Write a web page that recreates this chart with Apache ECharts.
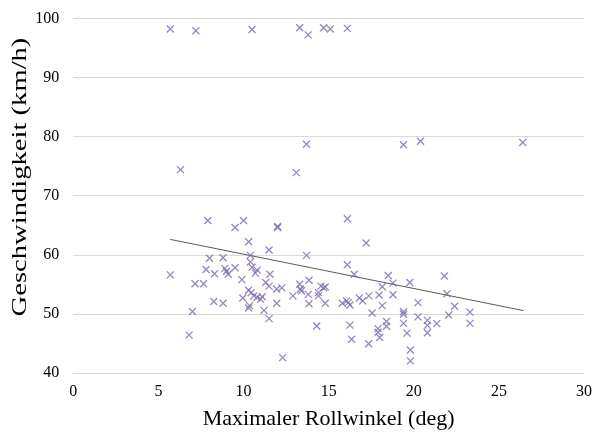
<!DOCTYPE html>
<html>
<head>
<meta charset="utf-8">
<script src="https://cdn.jsdelivr.net/npm/echarts@6/dist/echarts.min.js"></script>
<style>
  html, body { margin: 0; padding: 0; background: #fff; }
  #chart { width: 595px; height: 435px; }
</style>
</head>
<body>
<div id="chart"></div>
<script>
// Maximum roll angle (deg) per ride
const rollAngle = [
  5.7, 7.2, 10.5, 13.3, 13.8, 14.7, 15.1, 16.1,
  6.3, 13.1, 13.7, 19.4, 20.4, 26.4,
  7.9, 10.0, 9.5, 12.0, 12.0, 16.1, 10.3, 17.2, 11.5, 13.7,
  8.0, 8.8, 10.4, 10.4, 16.1, 7.8, 8.9, 9.0, 9.1, 9.5,
  8.3, 10.5, 10.8, 10.7, 11.55, 16.5, 18.5, 21.8, 5.7,
  7.15, 7.65, 9.9, 11.3, 11.5, 11.95, 12.25, 13.3, 13.35, 13.4,
  13.85, 13.8, 12.9, 14.4, 14.4, 14.55, 14.7, 14.8, 18.15, 18.78,
  19.77, 21.95, 17.96, 18.78, 17.36, 10.3, 10.45, 10.6, 10.8, 11.0,
  11.1, 9.96,
  8.25, 8.8, 10.35, 10.3, 11.95, 13.85, 14.8, 15.8, 16.05, 16.15,
  16.25, 16.8, 17.0, 18.15, 20.25, 22.4, 11.2, 7.0, 17.55, 19.4,
  19.4, 23.3, 22.05, 20.25,
  11.5, 18.4, 18.4, 17.9, 17.9, 18.0, 19.4, 20.8, 20.8, 20.8,
  21.35, 23.3, 19.6, 19.8, 19.8, 16.25, 16.35, 17.35, 14.3, 6.8,
  12.3
];
// Speed (km/h) for the same rides
const speed = [
  98.2, 97.9, 98.1, 98.4, 97.2, 98.4, 98.2, 98.3,
  74.4, 73.9, 78.7, 78.6, 79.2, 79.0,
  65.8, 65.8, 64.6, 64.8, 64.6, 66.1, 62.2, 62.0, 60.8, 59.9,
  59.4, 59.5, 59.9, 58.8, 58.3, 57.5, 57.7, 57.2, 56.7, 57.8,
  56.8, 57.9, 57.4, 56.9, 56.7, 56.7, 56.5, 56.4, 56.6,
  55.1, 55.1, 55.8, 55.3, 54.7, 54.2, 54.4, 55.0, 54.2, 53.9,
  55.7, 53.3, 53.05, 53.6, 53.05, 54.7, 54.4, 54.55, 54.6, 55.2,
  55.3, 53.4, 53.2, 53.25, 53.05, 54.0, 53.6, 53.05, 52.8, 52.5,
  52.9, 52.7,
  52.1, 51.8, 51.4, 51.0, 51.8, 51.7, 51.8, 51.8, 52.2, 51.9,
  51.5, 52.7, 52.2, 51.4, 51.9, 51.3, 50.6, 50.4, 50.15, 50.35,
  49.95, 50.3, 49.8, 49.5,
  49.2, 48.7, 47.9, 47.5, 46.9, 46.0, 48.4, 48.9, 48.05, 46.8,
  48.35, 48.4, 46.75, 43.9, 42.05, 48.1, 45.7, 44.95, 47.95, 46.4,
  42.6
];
// Linear trend line end points
const trendX = [5.7, 26.45];
const trendY = [62.6, 50.55];

const xTicks = { min: 0, max: 30, interval: 5 };
const yTicks = { min: 40, max: 100, interval: 10 };

const xTitle = 'Maximaler Rollwinkel (deg)';
const yTitle = 'Geschwindigkeit (km/h)';

const points = rollAngle.map((x, i) => [x, speed[i]]);
const trend = trendX.map((x, i) => [x, trendY[i]]);

const serif = '"Liberation Serif", "Times New Roman", serif';
const chart = echarts.init(document.getElementById('chart'), null, { renderer: 'canvas' });
chart.setOption({
  animation: false,
  backgroundColor: '#ffffff',
  grid: { left: 73.3, right: 7, top: 18.3, bottom: 56.7, containLabel: false },
  xAxis: {
    type: 'value',
    min: xTicks.min, max: xTicks.max, interval: xTicks.interval,
    name: xTitle,
    nameLocation: 'middle',
    nameGap: 35,
    nameTextStyle: { fontFamily: serif, fontSize: 22, color: '#000' },
    axisLine: { show: true, lineStyle: { color: '#d9d9d9', width: 1 } },
    axisTick: { show: false },
    splitLine: { show: false },
    axisLabel: { fontFamily: serif, fontSize: 16, color: '#000', margin: 11 }
  },
  yAxis: {
    type: 'value',
    min: yTicks.min, max: yTicks.max, interval: yTicks.interval,
    axisLine: { show: false },
    axisTick: { show: false },
    splitLine: { show: true, lineStyle: { color: '#d9d9d9', width: 1 } },
    axisLabel: { fontFamily: serif, fontSize: 16, color: '#000', margin: 14 }
  },
  // Vertical axis title, drawn stretched along its length
  graphic: [{
    type: 'text',
    x: 20,
    y: 177,
    rotation: Math.PI / 2,
    scaleX: 1.3,
    style: {
      text: yTitle,
      font: '22px "Liberation Serif", "Times New Roman", serif',
      fill: '#000',
      align: 'center',
      verticalAlign: 'middle'
    }
  }],
  series: [
    {
      type: 'scatter',
      data: points,
      symbol: 'path://M0,0L10,10M10,0L0,10',
      symbolSize: 7,
      itemStyle: { color: 'rgba(0,0,0,0)', borderColor: '#7d68ad', borderWidth: 1.3 },
      z: 3
    },
    {
      type: 'line',
      data: trend,
      symbol: 'none',
      lineStyle: { color: '#595959', width: 1 },
      z: 2
    }
  ]
});
</script>
</body>
</html>
